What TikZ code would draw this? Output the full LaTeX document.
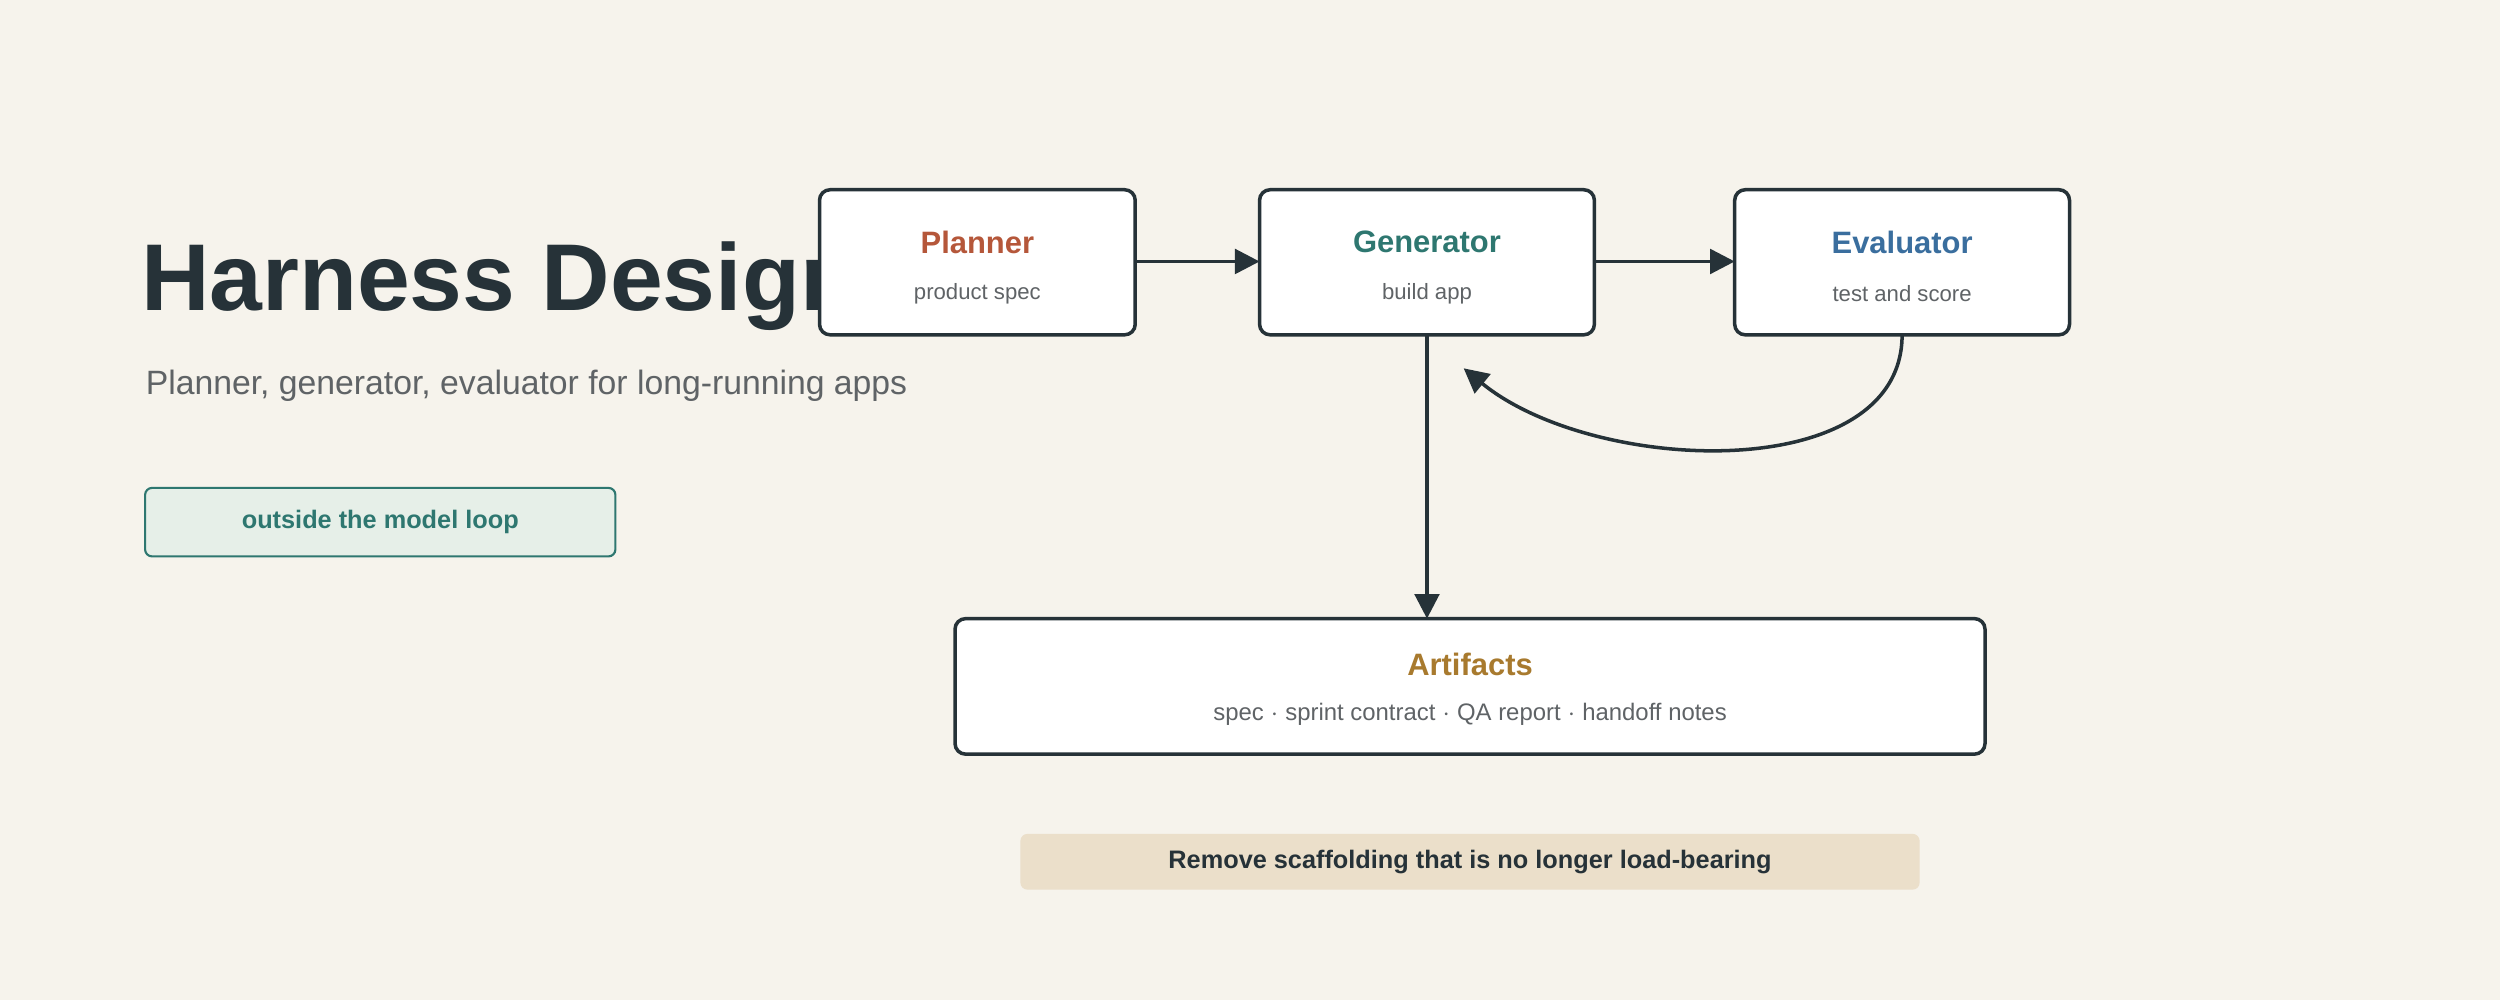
\documentclass[tikz,border=0pt]{standalone}
\usepackage{fontspec}
\setmainfont{Liberation Sans}
\usetikzlibrary{arrows.meta}
\definecolor{bgpaper}{HTML}{F6F3EC}
\definecolor{ink}{HTML}{263238}
\definecolor{muted}{HTML}{5F6366}
\definecolor{planc}{HTML}{B5573A}
\definecolor{genc}{HTML}{2E7770}
\definecolor{evalc}{HTML}{3A6E9E}
\definecolor{artc}{HTML}{A87A2E}
\definecolor{loopfill}{HTML}{E6EFE8}
\definecolor{barfill}{HTML}{EBDFCA}
\begin{document}
\begin{tikzpicture}[x=0.01594cm, y=-0.01594cm,
  card/.style = {draw=ink, line width=1pt, rounded corners=3pt, fill=white},
  head/.style = {font=\bfseries\fontsize{8.8}{10}\selectfont},
  sub/.style = {text=muted, font=\fontsize{6.3}{8}\selectfont},
  flow/.style = {-{Triangle[length=7pt,width=7pt]}, draw=ink, line width=1pt}]
\fill[bgpaper] (0,0) rectangle (1568,627);
\useasboundingbox (0,0) rectangle (1568,627);

% title block
\node[anchor=base west, inner sep=0, text=ink, font=\bfseries\fontsize{27}{30}\selectfont] (title) at (88,195) {Harness Design};
\node[anchor=west, inner sep=0, text=muted, font=\fontsize{9.6}{11}\selectfont] (subtitle) at (91,242) {Planner, generator, evaluator for long-running apps};
\node[draw=genc, fill=loopfill, rounded corners=2pt, line width=0.6pt, minimum width=295*0.01594cm, minimum height=43*0.01594cm, text=genc, font=\bfseries\fontsize{7.2}{9}\selectfont] (loop) at (238.5,327.5) {outside the model loop};

% agents
\draw[card] (514,119) rectangle (712,210);
\node (planner) at (613,164.5) {};
\node[head, text=planc] at (613,152) {Planner};
\node[sub] at (613,184) {product spec};

\draw[card] (790,119) rectangle (1000,210);
\node (generator) at (895,164.5) {};
\node[head, text=genc] at (895,152) {Generator};
\node[sub] at (895,184) {build app};

\draw[card] (1088,119) rectangle (1298,210);
\node (evaluator) at (1193,164.5) {};
\node[head, text=evalc] at (1193,152) {Evaluator};
\node[sub] at (1193,184) {test and score};

\draw[card] (599,388) rectangle (1245,473);
\node[head, text=artc] at (922,417) {Artifacts};
\node[sub, font=\fontsize{6.8}{8}\selectfont] at (922,448) {spec $\cdot$ sprint contract $\cdot$ QA report $\cdot$ handoff notes};

\coordinate (genout) at (712,164);
\coordinate (genin) at (790,164);
\coordinate (evalin) at (1088,164);
\coordinate (genright) at (1000,164);
\coordinate (genbot) at (895,210);
\coordinate (arttop) at (895,388);
\coordinate (evalbot) at (1193,210);
\coordinate (back) at (918,231);

\draw[flow] (genout) -- (genin);
\draw[flow] (genright) -- (evalin);
\draw[flow] (genbot) -- (arttop);
\draw[flow] (evalbot) .. controls (1193,305) and (1000,298) .. (back);

% footer
\node[fill=barfill, rounded corners=2pt, minimum width=564*0.01594cm, minimum height=35*0.01594cm, text=ink, font=\bfseries\fontsize{7.2}{9}\selectfont] (note) at (922,540.5) {Remove scaffolding that is no longer load-bearing};
\end{tikzpicture}
\end{document}
